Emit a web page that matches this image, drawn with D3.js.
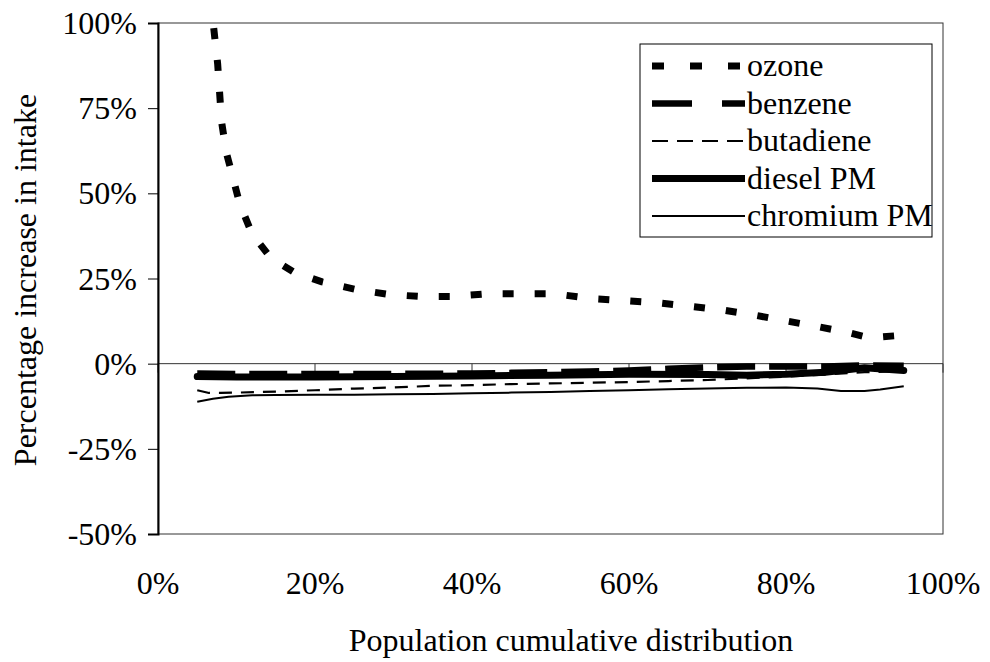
<!DOCTYPE html>
<html>
<head>
<meta charset="utf-8">
<script src="https://cdn.jsdelivr.net/npm/d3@7/dist/d3.min.js"></script>
<style>
  html, body { margin: 0; padding: 0; background: #fff; }
  svg { display: block; }
  text { font-family: "Liberation Serif", "Times New Roman", serif; fill: #000; }
</style>
</head>
<body>
<svg id="chart" width="990" height="662"></svg>
<script>
// Population cumulative distribution (%) and percentage increase in intake (%)
const ozoneX = [7.1, 7.6, 8.1, 8.7, 9.5, 10.4, 12.0, 14.4, 17.2, 20.9, 25.4, 29.5, 33.5, 37.4, 42.0, 46.3, 50.5, 55.2, 59.5, 63.6, 68.3, 72.3, 75.6, 79.9, 84.0, 88.0, 90.6, 94.0];
const ozoneY = [98.5, 88, 71, 62, 55, 47, 38, 31, 27, 24, 21.7, 20.3, 19.7, 19.7, 20.5, 20.5, 20.5, 19.1, 18.5, 17.9, 16.7, 15.6, 14.4, 12.6, 10.9, 9.1, 7.6, 8.2];

const benzeneX = [5, 10, 20, 30, 40, 45, 50, 55, 60, 65, 70, 75, 80, 85, 90, 95];
const benzeneY = [-2.9, -3.0, -3.0, -3.0, -2.9, -2.7, -2.5, -2.3, -2.0, -1.5, -1.1, -0.8, -0.8, -0.8, -0.5, -0.6];

const butadieneX = [5, 6.5, 8, 10, 15, 20, 25, 30, 35, 40, 45, 50, 55, 60, 65, 70, 75, 80, 85, 90, 95];
const butadieneY = [-7.8, -8.6, -8.6, -8.5, -8.2, -7.8, -7.3, -7.0, -6.5, -6.3, -6.0, -5.8, -5.6, -5.4, -5.1, -4.8, -4.3, -3.8, -3.2, -2.5, -2.2];

const dieselX = [5, 10, 20, 30, 40, 50, 60, 70, 75, 80, 85, 90, 95];
const dieselY = [-3.8, -3.9, -3.9, -3.8, -3.6, -3.4, -3.1, -3.2, -3.4, -3.1, -2.5, -1.2, -2.0];

const chromiumX = [5, 7, 9, 12, 15, 20, 25, 30, 35, 40, 45, 50, 55, 60, 65, 70, 75, 80, 84, 87, 90, 92, 95];
const chromiumY = [-11.2, -10.3, -9.7, -9.3, -9.2, -9.1, -9.1, -9.0, -8.9, -8.7, -8.5, -8.3, -8.0, -7.8, -7.5, -7.3, -7.1, -7.0, -7.3, -8.0, -8.0, -7.6, -6.6];

const xTicks = [0, 20, 40, 60, 80, 100];
const yTicks = [-50, -25, 0, 25, 50, 75, 100];
const seriesNames = ["ozone", "benzene", "butadiene", "diesel PM", "chromium PM"];

const xTitle = "Population cumulative distribution";
const yTitle = "Percentage increase in intake";

// ---- layout ----
const svg = d3.select("#chart");
const plotLeft = 158, plotRight = 943, plotTop = 23, plotBottom = 534;
const x = d3.scaleLinear().domain([0, 100]).range([plotLeft, plotRight]);
const y = d3.scaleLinear().domain([-50, 100]).range([plotBottom, plotTop]);
const fontSize = 32;

const series = [
  { name: seriesNames[0], xs: ozoneX, ys: ozoneY, width: 7, dash: "11,21", legendDash: "12,26", cap: "butt" },
  { name: seriesNames[1], xs: benzeneX, ys: benzeneY, width: 6.5, dash: "38,14", legendDash: "40,30", cap: "butt" },
  { name: seriesNames[2], xs: butadieneX, ys: butadieneY, width: 2.2, dash: "13,9", legendDash: "16,9", cap: "butt" },
  { name: seriesNames[3], xs: dieselX, ys: dieselY, width: 7, dash: null, legendDash: null, cap: "round" },
  { name: seriesNames[4], xs: chromiumX, ys: chromiumY, width: 2, dash: null, legendDash: null, cap: "butt" }
];

svg.append("defs").append("clipPath").attr("id", "plotClip")
  .append("rect").attr("x", plotLeft).attr("y", plotTop)
  .attr("width", plotRight - plotLeft).attr("height", plotBottom - plotTop);

// plot frame
svg.append("rect")
  .attr("x", plotLeft).attr("y", plotTop)
  .attr("width", plotRight - plotLeft).attr("height", plotBottom - plotTop)
  .attr("fill", "none").attr("stroke", "#333").attr("stroke-width", 1);

// horizontal axis line through 0% with its tick marks
svg.append("line")
  .attr("x1", plotLeft).attr("x2", plotRight).attr("y1", y(0)).attr("y2", y(0))
  .attr("stroke", "#333").attr("stroke-width", 1);
svg.append("g").selectAll("line").data(xTicks).join("line")
  .attr("x1", d => x(d)).attr("x2", d => x(d))
  .attr("y1", y(0)).attr("y2", y(0) + 9)
  .attr("stroke", "#333").attr("stroke-width", 1);

// vertical axis
const yAxis = d3.axisLeft(y).tickValues(yTicks).tickSize(10).tickFormat("");
const gy = svg.append("g").attr("transform", `translate(${plotLeft},0)`).call(yAxis);
gy.select(".domain").attr("stroke", "#000").attr("stroke-width", 2);
gy.selectAll(".tick line").attr("stroke", "#000").attr("stroke-width", 1);

// y tick labels
svg.append("g").selectAll("text").data(yTicks).join("text")
  .attr("x", 137).attr("y", d => y(d) + 11)
  .attr("text-anchor", "end")
  .attr("font-size", fontSize)
  .text(d => d + "%");

// x tick labels
svg.append("g").selectAll("text").data(xTicks).join("text")
  .attr("x", d => x(d)).attr("y", 594)
  .attr("text-anchor", "middle")
  .attr("font-size", fontSize)
  .text(d => d + "%");

// axis titles
svg.append("text")
  .attr("x", 571).attr("y", 651)
  .attr("text-anchor", "middle")
  .attr("font-size", fontSize)
  .text(xTitle);
svg.append("text")
  .attr("transform", `translate(36,280) rotate(-90)`)
  .attr("text-anchor", "middle")
  .attr("font-size", fontSize)
  .text(yTitle);

// series lines
const line = d3.line().x(d => x(d[0])).y(d => y(d[1]));
const plot = svg.append("g").attr("clip-path", "url(#plotClip)");
series.slice().reverse().forEach(s => {
  const pts = s.xs.map((v, i) => [v, s.ys[i]]);
  plot.append("path")
    .attr("d", line(pts))
    .attr("fill", "none")
    .attr("stroke", "#000")
    .attr("stroke-width", s.width)
    .attr("stroke-dasharray", s.dash)
    .attr("stroke-linecap", s.cap)
    .attr("stroke-linejoin", "round");
});

// legend
const lg = svg.append("g");
lg.append("rect")
  .attr("x", 640).attr("y", 44).attr("width", 292).attr("height", 193)
  .attr("fill", "#fff").attr("stroke", "#000").attr("stroke-width", 1);
const rowY = i => 66 + i * 37.5;
series.forEach((s, i) => {
  lg.append("line")
    .attr("x1", 652).attr("x2", 745)
    .attr("y1", rowY(i)).attr("y2", rowY(i))
    .attr("stroke", "#000")
    .attr("stroke-width", s.width)
    .attr("stroke-dasharray", s.legendDash);
  lg.append("text")
    .attr("x", 747).attr("y", rowY(i) + 10)
    .attr("font-size", fontSize)
    .text(s.name);
});
</script>
</body>
</html>
